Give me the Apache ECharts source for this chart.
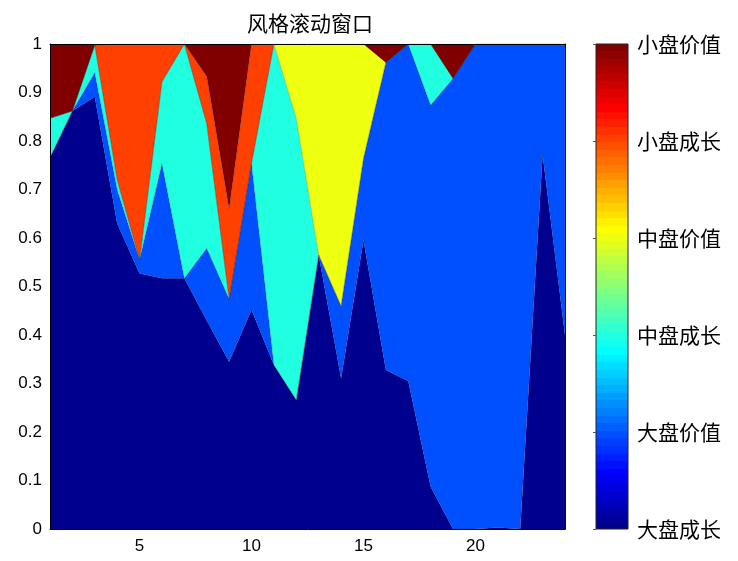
<!DOCTYPE html>
<html>
<head>
<meta charset="utf-8">
<script src="https://cdn.jsdelivr.net/npm/echarts@6/dist/echarts.min.js"></script>
<style>html,body{margin:0;padding:0;background:#fff}#c{width:738px;height:561px}</style>
</head>
<body>
<div id="c"></div>
<script>
// ---- data (top level) ----
var title = '风格滚动窗口';
var xs = [1,2,3,4,5,6,7,8,9,10,11,12,13,14,15,16,17,18,19,20,21,22,23,24];
var names = ['大盘成长','大盘价值','中盘成长','中盘价值','小盘成长','小盘价值'];
var largeGrowth = [0.766,0.862,0.891,0.630,0.527,0.517,0.517,0.430,0.345,0.452,0.338,0.266,0.565,0.311,0.596,0.328,0.305,0.087,0.000,0.000,0.003,0.000,0.772,0.400];
var largeValue  = [0.000,0.000,0.050,0.070,0.028,0.237,0.000,0.149,0.129,0.302,0.000,0.000,0.000,0.149,0.168,0.634,0.695,0.787,0.929,1.000,0.997,1.000,0.228,0.600];
var midGrowth   = [0.081,0.000,0.057,0.020,0.000,0.168,0.483,0.257,0.000,0.000,0.662,0.581,0.000,0.000,0.000,0.000,0.000,0.126,0.000,0.000,0.000,0.000,0.000,0.000];
var midValue    = [0.000,0.000,0.000,0.000,0.000,0.000,0.000,0.000,0.000,0.000,0.000,0.153,0.435,0.540,0.236,0.000,0.000,0.000,0.000,0.000,0.000,0.000,0.000,0.000];
var smallGrowth = [0.000,0.000,0.000,0.280,0.445,0.078,0.000,0.097,0.186,0.246,0.000,0.000,0.000,0.000,0.000,0.000,0.000,0.000,0.000,0.000,0.000,0.000,0.000,0.000];
var smallValue  = [0.153,0.138,0.002,0.000,0.000,0.000,0.000,0.067,0.340,0.000,0.000,0.000,0.000,0.000,0.000,0.038,0.000,0.000,0.071,0.000,0.000,0.000,0.000,0.000];
var xTicks = [5,10,15,20];

// ---- jet colormap ----
function clamp(v){return Math.max(0,Math.min(1,v));}
function jet(t){
  var r=clamp(1.5-Math.abs(4*t-3)), g=clamp(1.5-Math.abs(4*t-2)), b=clamp(1.5-Math.abs(4*t-1));
  function h(v){var s=Math.round(v*255).toString(16);return s.length<2?'0'+s:s;}
  return '#'+h(r)+h(g)+h(b);
}
var M=64;
var seriesColors=[1,13,26,39,52,64].map(function(k){return jet(k/M);});
var stops=[];
for(var k=1;k<=M;k++){
  var c=jet(k/M);
  stops.push({offset:(k-1)/M,color:c});
  stops.push({offset:k/M,color:c});
}

var allVals=[largeGrowth,largeValue,midGrowth,midValue,smallGrowth,smallValue];
var series=allVals.map(function(arr,i){
  return {
    name:names[i], type:'line', stack:'total', xAxisIndex:0, yAxisIndex:0,
    data:arr.slice(),
    showSymbol:false, symbol:'none', smooth:false,
    lineStyle:{width:0.5,color:'rgba(40,40,40,0.4)'},
    areaStyle:{color:seriesColors[i],opacity:1},
    itemStyle:{color:seriesColors[i]},
    z:2, silent:true, animation:false
  };
});

var tickFont={fontFamily:'Liberation Sans, Arial, sans-serif',fontSize:17,color:'#000'};
var cjk='Noto Sans CJK SC';
var cats=xs.map(String);

var chart=echarts.init(document.getElementById('c'),null,{renderer:'canvas'});
chart.setOption({
  animation:false,
  backgroundColor:'#fff',
  title:{text:title,left:305,top:8,textAlign:'center',
    textStyle:{fontFamily:cjk,fontSize:21,fontWeight:'normal',color:'#000'}},
  grid:[
    {left:50,right:173,top:44,bottom:32,containLabel:false},
    {left:596,width:32,top:44,bottom:32,show:true,borderColor:'#222',borderWidth:1,
     backgroundColor:{type:'linear',x:0,y:1,x2:0,y2:0,colorStops:stops}}
  ],
  xAxis:[
    {type:'category',gridIndex:0,data:cats,boundaryGap:false,position:'bottom',z:10,
     axisLine:{show:true,onZero:false,lineStyle:{color:'#000',width:1}},
     axisTick:{show:false},
     splitLine:{show:false},
     axisLabel:Object.assign({show:true,margin:9,
       interval:function(idx,val){return xTicks.indexOf(Number(val))>=0;}},tickFont)},
    {type:'category',gridIndex:0,data:cats,boundaryGap:false,position:'top',z:10,
     axisLine:{show:true,onZero:false,lineStyle:{color:'#000',width:1}},
     axisTick:{show:false},axisLabel:{show:false},splitLine:{show:false}},
    {type:'value',gridIndex:1,min:0,max:1,show:false}
  ],
  yAxis:[
    {type:'value',gridIndex:0,min:0,max:1,interval:0.1,position:'left',z:10,
     axisLine:{show:true,onZero:false,lineStyle:{color:'#000',width:1}},
     axisTick:{show:false},splitLine:{show:false},
     axisLabel:Object.assign({margin:8,formatter:function(v){return String(Math.round(v*10)/10);}},tickFont)},
    {type:'value',gridIndex:0,min:0,max:1,interval:0.1,position:'right',z:10,
     axisLine:{show:true,onZero:false,lineStyle:{color:'#000',width:1}},
     axisTick:{show:false},axisLabel:{show:false},splitLine:{show:false}},
    {type:'value',gridIndex:1,min:0,max:5,interval:1,position:'right',z:10,
     axisLine:{show:false},
     axisTick:{show:true,inside:true,length:3,lineStyle:{color:'#555'}},
     splitLine:{show:false},
     axisLabel:{margin:9,fontFamily:cjk,fontSize:21,color:'#000',
       formatter:function(v){return names[Math.round(v)]||'';}}}
  ],
  series:series
});
</script>
</body>
</html>
